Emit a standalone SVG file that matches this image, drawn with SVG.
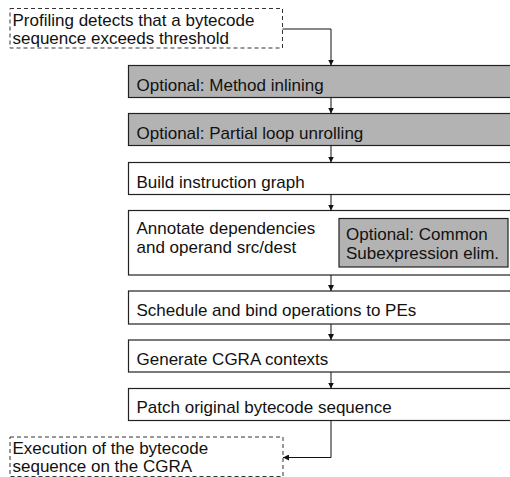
<svg xmlns="http://www.w3.org/2000/svg" width="510" height="477" viewBox="0 0 510 477">
<defs>
<marker id="ah" viewBox="0 0 10 10" refX="10" refY="5" markerWidth="6" markerHeight="6" markerUnits="userSpaceOnUse" orient="auto"><path d="M0,0 L10,5 L0,10 z" fill="#111"/></marker>
<style>
text{font-family:"Liberation Sans",Arial,sans-serif;font-size:17px;fill:#111}
.box{fill:#fff;stroke:#222;stroke-width:1.2}
.opt{fill:#b3b3b3;stroke:#222;stroke-width:1.2}
.dash{fill:#fff;stroke:#333;stroke-width:1;stroke-dasharray:4,3}
.con{fill:none;stroke:#111;stroke-width:1;marker-end:url(#ah)}
</style>
</defs>
<rect width="510" height="477" fill="#fff"/>
<g id="start"><rect class="dash" x="10" y="8.5" width="272.5" height="39.5"/><text x="12.5" y="25.5">Profiling detects that a bytecode</text><text x="12.5" y="44">sequence exceeds threshold</text></g>
<g id="inline"><rect class="opt" x="128.5" y="65.5" width="390" height="32"/><text x="136.5" y="90.5">Optional: Method inlining</text></g>
<g id="unroll"><rect class="opt" x="128.5" y="113.5" width="390" height="32"/><text x="136.5" y="139">Optional: Partial loop unrolling</text></g>
<g id="graph"><rect class="box" x="128.5" y="162.5" width="390" height="32"/><text x="136.5" y="187.5">Build instruction graph</text></g>
<g id="annotate"><rect class="box" x="128.5" y="210.5" width="390" height="64.5"/><text x="136.5" y="234">Annotate dependencies</text><text x="136.5" y="253">and operand src/dest</text></g>
<g id="cse"><rect class="opt" x="339" y="218.5" width="169" height="48.5"/><text x="346" y="240">Optional: Common</text><text x="346" y="259">Subexpression elim.</text></g>
<g id="schedule"><rect class="box" x="128.5" y="291" width="390" height="33"/><text x="136.5" y="315.5">Schedule and bind operations to PEs</text></g>
<g id="contexts"><rect class="box" x="128.5" y="340" width="390" height="32"/><text x="136.5" y="364.5">Generate CGRA contexts</text></g>
<g id="patch"><rect class="box" x="128.5" y="388.5" width="390" height="32"/><text x="136.5" y="413">Patch original bytecode sequence</text></g>
<g id="exec"><rect class="dash" x="10" y="437" width="273" height="39.5"/><text x="12.5" y="453.5">Execution of the bytecode</text><text x="12.5" y="472">sequence on the CGRA</text></g>
<g id="connectors">
<path class="con" d="M282.5,29 H331 V65.5"/>
<path class="con" d="M331,97.5 V113.5"/>
<path class="con" d="M331,145.5 V162.5"/>
<path class="con" d="M331,194.5 V210.5"/>
<path class="con" d="M331,275 V291"/>
<path class="con" d="M331,324 V340"/>
<path class="con" d="M331,372 V388.5"/>
<path class="con" d="M331,420.5 V457.5 H283"/>
</g>
</svg>
